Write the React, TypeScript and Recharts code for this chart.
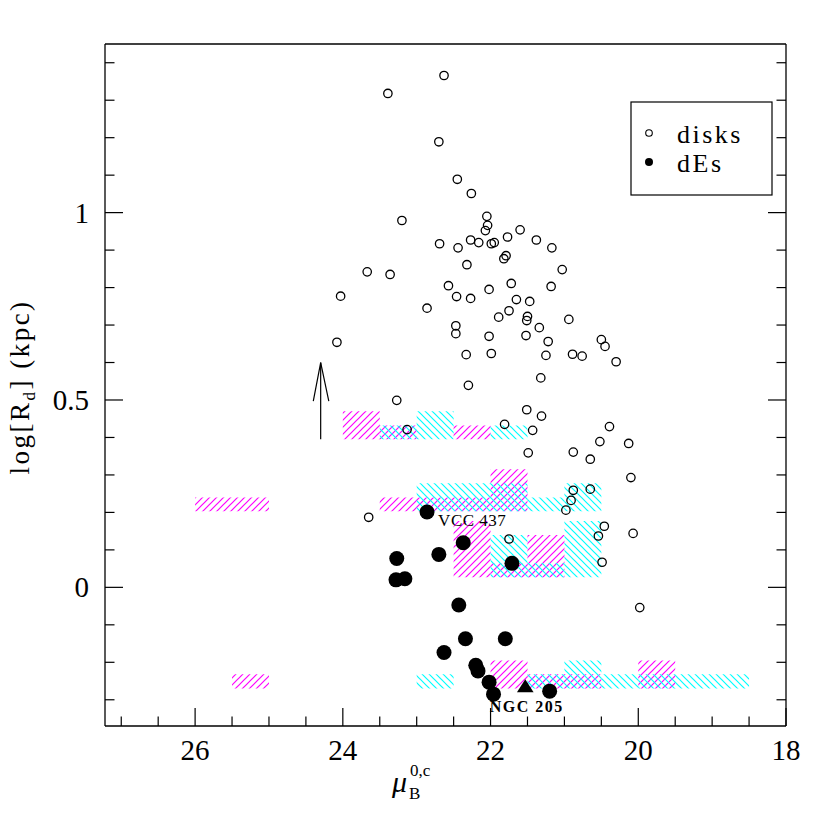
import React from "react";
import { ScatterChart, Scatter, XAxis, YAxis, ReferenceArea } from "recharts";

/* ── log R_d vs central surface brightness: disks, dEs and histogram boxes ── */

const FONT = "'Liberation Serif', 'Times New Roman', serif";

// axis ticks (every 0.5 mag / 0.1 dex), labelled ones listed separately
const xTicks = [27, 26.5, 26, 25.5, 25, 24.5, 24, 23.5, 23, 22.5, 22, 21.5, 21, 20.5, 20, 19.5, 19, 18.5, 18];
const xLabelled = [26, 24, 22, 20, 18];
const yTicks = [-0.3, -0.2, -0.1, 0, 0.1, 0.2, 0.3, 0.4, 0.5, 0.6, 0.7, 0.8, 0.9, 1, 1.1, 1.2, 1.3, 1.4];
const yLabelled = [0, 0.5, 1];

// disk galaxies: [mu_B, log Rd]
const disks: [number, number][] = [
  [22.63, 1.366], [23.39, 1.318], [22.70, 1.189], [22.45, 1.089], [22.26, 1.051],
  [23.20, 0.979], [22.05, 0.990], [22.04, 0.966], [22.07, 0.952], [21.60, 0.954],
  [21.38, 0.927], [21.77, 0.935], [22.27, 0.927], [22.16, 0.920], [21.99, 0.917],
  [21.95, 0.920], [22.69, 0.917], [22.44, 0.906], [21.17, 0.906], [22.32, 0.861],
  [21.79, 0.885], [21.82, 0.877], [21.03, 0.848], [22.57, 0.805], [22.46, 0.776],
  [22.27, 0.771], [22.02, 0.795], [21.72, 0.811], [21.18, 0.803], [21.65, 0.768],
  [21.47, 0.763], [21.75, 0.738], [21.89, 0.721], [21.50, 0.723], [21.51, 0.712],
  [21.34, 0.693], [20.94, 0.715], [22.47, 0.698], [22.47, 0.677], [22.02, 0.670],
  [21.52, 0.672], [21.22, 0.656], [20.50, 0.661], [20.45, 0.643], [22.33, 0.621],
  [21.99, 0.624], [21.25, 0.619], [20.89, 0.622], [20.76, 0.617], [20.30, 0.602],
  [21.32, 0.559], [23.67, 0.842], [23.36, 0.835], [24.03, 0.777], [22.86, 0.745],
  [24.08, 0.654], [23.27, 0.499], [23.13, 0.421], [22.30, 0.539], [21.51, 0.474],
  [21.31, 0.457], [21.81, 0.435], [21.43, 0.419], [21.49, 0.359], [20.39, 0.429],
  [20.52, 0.389], [20.13, 0.384], [20.88, 0.361], [20.65, 0.342], [20.10, 0.293],
  [20.88, 0.259], [20.65, 0.262], [20.91, 0.232], [20.98, 0.206], [20.46, 0.163],
  [20.54, 0.137], [20.07, 0.144], [21.75, 0.129], [20.49, 0.067], [19.98, -0.054],
  [23.65, 0.187],
];

// dwarf ellipticals
const dEs: [number, number][] = [
  [22.86, 0.201], [22.37, 0.119], [21.71, 0.064], [23.27, 0.077], [22.70, 0.088],
  [23.28, 0.020], [23.16, 0.023], [22.43, -0.047], [22.34, -0.137], [21.80, -0.137],
  [22.63, -0.174], [22.20, -0.208], [22.17, -0.223], [22.02, -0.253], [21.96, -0.285],
  [21.20, -0.277],
];
const ngc205: [number, number][] = [[21.53, -0.265]];

// hatched histogram boxes: [mu1, mu2, logR1, logR2]
const magentaBoxes: [number, number, number, number][] = [
  [26, 25, 0.203, 0.240],
  [25.5, 25, -0.27, -0.232],
  [24, 23.5, 0.395, 0.470],
  [23.5, 23, 0.395, 0.432],
  [22.5, 22, 0.395, 0.432],
  [23.5, 22, 0.203, 0.240],
  [22, 21.5, 0.203, 0.315],
  [22.5, 22, 0.027, 0.177],
  [22, 21.5, 0.027, 0.065],
  [21.5, 21, 0.027, 0.140],
  [22, 21.5, -0.27, -0.195],
  [21.5, 20.5, -0.27, -0.232],
  [20, 19.5, -0.27, -0.195],
];
const cyanBoxes: [number, number, number, number][] = [
  [23.5, 23, 0.395, 0.432],
  [23, 22.5, 0.395, 0.470],
  [22, 21.5, 0.395, 0.432],
  [23, 21.5, 0.203, 0.278],
  [21.5, 21, 0.203, 0.240],
  [21, 20.5, 0.203, 0.278],
  [22, 21.5, 0.027, 0.140],
  [21.5, 21, 0.027, 0.065],
  [21, 20.5, 0.027, 0.177],
  [23, 22.5, -0.27, -0.232],
  [21.5, 21, -0.27, -0.232],
  [21, 20.5, -0.27, -0.195],
  [20.5, 20, -0.27, -0.232],
  [20, 18.5, -0.27, -0.232],
];

// upper-limit arrow and object labels
const arrowShaft: [number, number][] = [[24.3, 0.395], [24.3, 0.6]];
const arrowHead: [number, number][] = [[24.4, 0.497], [24.3, 0.6], [24.19, 0.497]];
const annotations: { x: number; y: number; text: string; bold: boolean }[] = [
  { x: 22.71, y: 0.165, text: "VCC 437", bold: false },
  { x: 22.01, y: -0.333, text: "NGC 205", bold: true },
];

const toPts = (arr: [number, number][]) => arr.map(([x, y]) => ({ x, y }));

const MAJOR = 18;
const MINOR = 9.5;

function BottomTick({ x, y, payload }: any) {
  const lab = xLabelled.includes(payload.value);
  return (
    <g>
      <line x1={x} y1={y} x2={x} y2={y - (lab ? MAJOR : MINOR)} stroke="#000" strokeWidth={1.2} />
      {lab && (
        <text x={x} y={y + 34} textAnchor="middle" fontFamily={FONT} fontSize={29} fill="#000">
          {payload.value}
        </text>
      )}
    </g>
  );
}

function TopTick({ x, y, payload }: any) {
  const lab = xLabelled.includes(payload.value);
  return <line x1={x} y1={y} x2={x} y2={y + (lab ? MAJOR : MINOR)} stroke="#000" strokeWidth={1.2} />;
}

function LeftTick({ x, y, payload }: any) {
  const lab = yLabelled.includes(payload.value);
  return (
    <g>
      <line x1={x} y1={y} x2={x + (lab ? MAJOR : MINOR)} y2={y} stroke="#000" strokeWidth={1.2} />
      {lab && (
        <text x={x - 16} y={y + 10} textAnchor="end" fontFamily={FONT} fontSize={29} fill="#000">
          {payload.value}
        </text>
      )}
    </g>
  );
}

function RightTick({ x, y, payload }: any) {
  const lab = yLabelled.includes(payload.value);
  return <line x1={x} y1={y} x2={x - (lab ? MAJOR : MINOR)} y2={y} stroke="#000" strokeWidth={1.2} />;
}

const OpenCircle = (p: any) => <circle cx={p.cx} cy={p.cy} r={4.2} fill="none" stroke="#000" strokeWidth={1.3} />;
const FilledCircle = (p: any) => <circle cx={p.cx} cy={p.cy} r={7.5} fill="#000" />;
const Triangle = (p: any) => (
  <polygon points={`${p.cx},${p.cy - 7.5} ${p.cx + 8.3},${p.cy + 5.5} ${p.cx - 8.3},${p.cy + 5.5}`} fill="#000" />
);
const Label = (p: any) => (
  <text
    x={p.cx}
    y={p.cy}
    fontFamily={FONT}
    fontSize={p.payload?.bold ? 16 : 17}
    fontWeight={p.payload?.bold ? "bold" : "normal"}
    letterSpacing={p.payload?.bold ? 1.5 : 0.5}
    fill="#000"
  >
    {p.payload?.text}
  </text>
);
const Nothing = () => <g />;

export default function App() {
  const axisLine = { stroke: "#000", strokeWidth: 1.3 };
  return (
    <div style={{ position: "absolute", left: 0, top: 0, width: 830, height: 830, background: "#fff" }}>
      <svg width={0} height={0} style={{ position: "absolute" }}>
        <defs>
          <pattern id="hatchM" patternUnits="userSpaceOnUse" width={7} height={7}>
            <path d="M-1,1 l2,-2 M0,7 l7,-7 M6,8 l2,-2" stroke="#ff00ff" strokeWidth={1.2} />
          </pattern>
          <pattern id="hatchC" patternUnits="userSpaceOnUse" width={7} height={7}>
            <path d="M-1,6 l2,2 M0,0 l7,7 M6,-1 l2,2" stroke="#00ffff" strokeWidth={1.2} />
          </pattern>
        </defs>
      </svg>

      <ScatterChart width={830} height={830} margin={{ top: 43, right: 43, bottom: 103, left: 104 }}>
        <XAxis
          type="number"
          dataKey="x"
          domain={[18, 27.22]}
          reversed
          allowDataOverflow
          ticks={xTicks}
          interval={0}
          height={1}
          tickSize={0}
          tickMargin={0}
          tickLine={false}
          axisLine={axisLine}
          tick={BottomTick}
        />
        <XAxis
          xAxisId="top"
          orientation="top"
          type="number"
          domain={[18, 27.22]}
          reversed
          allowDataOverflow
          ticks={xTicks}
          interval={0}
          height={1}
          tickSize={0}
          tickMargin={0}
          tickLine={false}
          axisLine={axisLine}
          tick={TopTick}
        />
        <YAxis
          type="number"
          dataKey="y"
          domain={[-0.37, 1.45]}
          allowDataOverflow
          ticks={yTicks}
          interval={0}
          width={1}
          tickSize={0}
          tickMargin={0}
          tickLine={false}
          axisLine={axisLine}
          tick={LeftTick}
        />
        <YAxis
          yAxisId="right"
          orientation="right"
          type="number"
          domain={[-0.37, 1.45]}
          allowDataOverflow
          ticks={yTicks}
          interval={0}
          width={1}
          tickSize={0}
          tickMargin={0}
          tickLine={false}
          axisLine={axisLine}
          tick={RightTick}
        />

        <Scatter data={toPts(disks)} shape={OpenCircle} isAnimationActive={false} />
        <Scatter data={toPts(dEs)} shape={FilledCircle} isAnimationActive={false} />
        <Scatter data={toPts(ngc205)} shape={Triangle} isAnimationActive={false} />

        {magentaBoxes.map(([x1, x2, y1, y2], i) => (
          <ReferenceArea key={`m${i}`} x1={x1} x2={x2} y1={y1} y2={y2} fill="url(#hatchM)" fillOpacity={1} stroke="none" />
        ))}
        {cyanBoxes.map(([x1, x2, y1, y2], i) => (
          <ReferenceArea key={`c${i}`} x1={x1} x2={x2} y1={y1} y2={y2} fill="url(#hatchC)" fillOpacity={1} stroke="none" />
        ))}

        <Scatter
          data={toPts(arrowShaft)}
          line={{ stroke: "#000", strokeWidth: 1.2 }}
          lineType="joint"
          shape={Nothing}
          isAnimationActive={false}
        />
        <Scatter
          data={toPts(arrowHead)}
          line={{ stroke: "#000", strokeWidth: 1.2, fill: "none" }}
          lineType="joint"
          shape={Nothing}
          isAnimationActive={false}
        />
        <Scatter data={annotations} shape={Label} isAnimationActive={false} />
      </ScatterChart>

      {/* axis titles and legend box */}
      <svg width={830} height={830} style={{ position: "absolute", left: 0, top: 0, pointerEvents: "none" }}>
        <text x={392} y={792} fontFamily={FONT} fontSize={30} fontStyle="italic" fill="#000">
          μ
        </text>
        <text x={409} y={799} fontFamily={FONT} fontSize={17} fill="#000">
          B
        </text>
        <text x={410} y={776} fontFamily={FONT} fontSize={17} fill="#000">
          0,c
        </text>

        <text
          transform="translate(29,387) rotate(-90)"
          textAnchor="middle"
          fontFamily={FONT}
          fontSize={27}
          letterSpacing={2.5}
          fill="#000"
        >
          log[R<tspan fontSize={17} dy={6}>d</tspan>
          <tspan dy={-6}>] (kpc)</tspan>
        </text>

        <rect x={631} y={102} width={141} height={93} fill="#fff" stroke="#000" strokeWidth={1.2} />
        <circle cx={649} cy={133} r={3.3} fill="none" stroke="#000" strokeWidth={1.1} />
        <text x={677} y={143} fontFamily={FONT} fontSize={26} letterSpacing={2.5} fill="#000">
          disks
        </text>
        <circle cx={649} cy={162} r={4} fill="#000" />
        <text x={677} y={172} fontFamily={FONT} fontSize={26} letterSpacing={2.5} fill="#000">
          dEs
        </text>
      </svg>
    </div>
  );
}
